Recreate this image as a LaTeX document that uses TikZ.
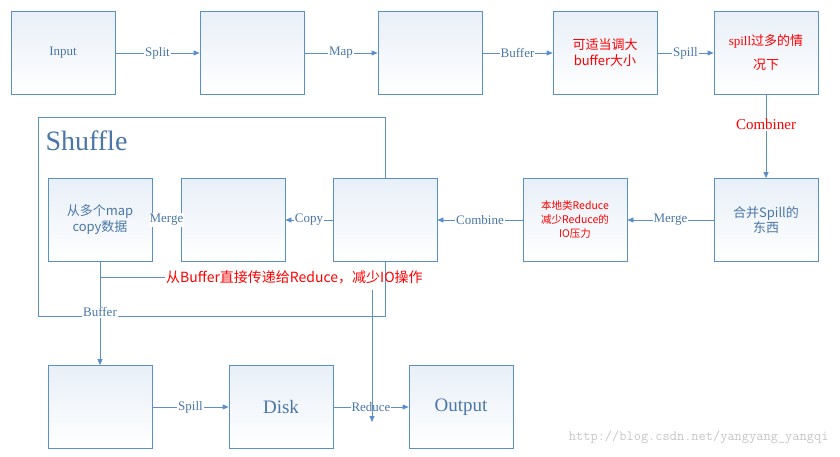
\documentclass[tikz,border=0pt]{standalone}
\usepackage{fontspec}
\setmainfont{Liberation Serif}
\newfontfamily\cjk{Noto Sans CJK SC}
\usetikzlibrary{arrows.meta}
\definecolor{bc}{HTML}{5B8FC9}
\definecolor{tc}{HTML}{4A76A8}
\tikzset{
 box/.style={draw=bc, line width=0.8pt, top color=bc!14, bottom color=white, minimum width=104, minimum height=83, text=tc, align=center, font=\fontsize{13}{16}\selectfont},
 arr/.style={draw=bc, line width=0.8pt, -{Triangle[length=6pt,width=5pt]}},
 ln/.style={draw=bc, line width=0.8pt},
 lbl/.style={fill=white, inner sep=1pt, text=tc, font=\fontsize{13}{15}\selectfont},
 red/.style={text=red, align=center}
}
\begin{document}
\begin{tikzpicture}[x=1pt,y=-1pt]
\useasboundingbox (0,0) rectangle (840,456);
\fill[white] (0,0) rectangle (840,456);
% shuffle frame
\draw[ln] (38,117) rectangle (385,316);
\node[anchor=west, text=tc, font=\fontsize{28}{30}\selectfont] (sh) at (42,141) {Shuffle};
% top row
\node[box] (in) at (63,53) {Input};
\node[box] (t2) at (252,53) {};
\node[box] (t3) at (430,53) {};
\node[box,text=red] (t4) at (605,53) {\cjk 可适当调大\\\cjk buffer大小};
\node[box,text=red] (t5) at (766,53) {spill{\cjk 过多的情}\\[8pt]\cjk 况下};
% middle row
\node[box] (m1) at (100,220) {\cjk 从多个map\\\cjk copy数据};
\node[box] (m2) at (233,220) {};
\node[box] (m3) at (385,220) {};
\node[box,text=red,font=\fontsize{10.5}{14}\selectfont] (m4) at (575,220) {\cjk 本地类Reduce\\\cjk 减少Reduce的\\\cjk IO压力};
\node[box] (m5) at (766,220) {\cjk 合并Spill的\\\cjk 东西};
% bottom row
\node[box,font=\fontsize{19}{22}\selectfont] (b1) at (100,407) {};
\node[box,font=\fontsize{19}{22}\selectfont] (disk) at (281,407) {Disk};
\node[box,font=\fontsize{19}{22}\selectfont] (out) at (461,407) {Output};
% edges
\draw[arr] (in) -- node[lbl]{Split} (t2);
\draw[arr] (t2) -- node[lbl]{Map} (t3);
\draw[arr] (t3) -- node[lbl]{Buffer} (t4);
\draw[arr] (t4) -- node[lbl]{Spill} (t5);
\draw[arr] (t5) -- node[lbl,text=red,font=\fontsize{15}{17}\selectfont, pos=0.36]{Combiner} (m5);
\draw[arr] (m5) -- node[lbl]{Merge} (m4);
\draw[arr] (m4) -- node[lbl]{Combine} (m3);
\draw[arr] (m3) -- node[lbl]{Copy} (m2);
\draw[arr] (m2) -- node[lbl]{Merge} (m1);
\draw[arr] (m1) -- node[lbl, pos=0.49]{Buffer} (b1);
\draw[arr] (b1) -- node[lbl]{Spill} (disk);
\draw[arr] (disk) -- node[lbl]{Reduce} (out);
% direct path
\coordinate (j1) at (100,277);
\node[red, anchor=west, inner sep=1pt, font=\fontsize{14}{16}\selectfont] (note) at (165,277) {\cjk 从Buffer直接传递给Reduce，减少IO操作};
\coordinate (j2) at (372,290);
\coordinate (j3) at (372,422);
\draw[ln] (j1) -- (note.west);
\draw[arr] (j2) -- (j3);
\node[text=black!22, font=\ttfamily\fontsize{14}{16}\selectfont, anchor=east] (wm) at (832,437) {http://blog.csdn.net/yangyang\_yangqi};
\end{tikzpicture}
\end{document}
